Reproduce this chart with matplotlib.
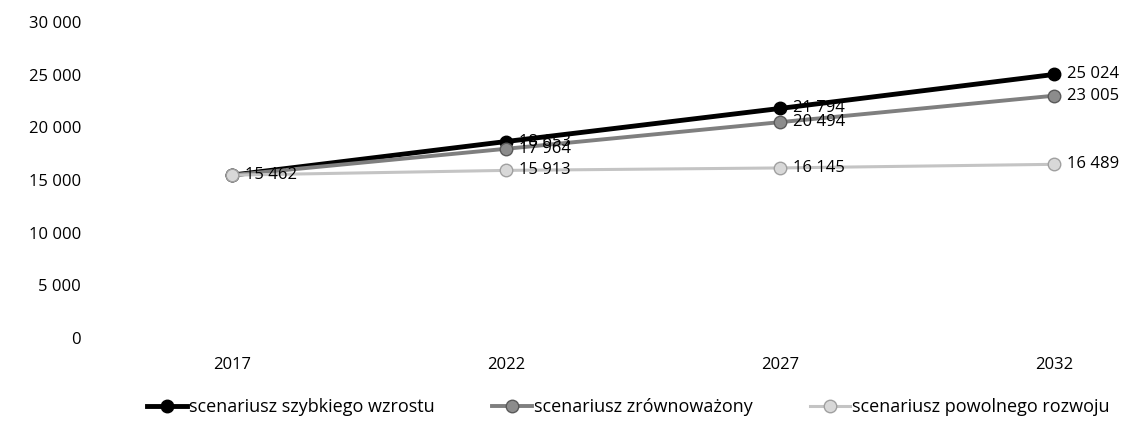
import matplotlib.pyplot as plt
import numpy as np

years = ['2017', '2022', '2027', '2032']
fast_growth = [15462, 18653, 21794, 25024]
balanced = [15462, 17964, 20494, 23005]
slow_growth = [15462, 15913, 16145, 16489]

series_names = ['scenariusz szybkiego wzrostu',
                'scenariusz zrównoważony',
                'scenariusz powolnego rozwoju']

plt.rcParams['font.family'] = ['Open Sans', 'DejaVu Sans']


def fmt(v):
    return '{:,}'.format(v).replace(',', ' ')


fig = plt.figure(figsize=(11.42, 4.26), dpi=100)
ax = fig.add_axes([95 / 1142, 88 / 426, 1047 / 1142, 316 / 426])

x = np.arange(len(years))
# later series sit on top, as in a spreadsheet chart
styles = [
    dict(color='black', lw=3.5, ms=9, mfc='black', mec='black', zorder=3),
    dict(color='#7f7f7f', lw=2.8, ms=9, mfc='#8c8c8c', mec='#5a5a5a', zorder=4),
    dict(color='#c4c4c4', lw=2.2, ms=9, mfc='#d8d8d8', mec='#a0a0a0', zorder=5),
]
for vals, name, st in zip([fast_growth, balanced, slow_growth], series_names, styles):
    ax.plot(x, vals, marker='o', label=name, **st)
    for i, v in enumerate(vals):
        # the three series share one start value, label it once
        if name != series_names[2] and i == 0:
            continue
        ax.annotate(fmt(v), (x[i], v), xytext=(9, 0), textcoords='offset points',
                    va='center', ha='left', fontsize=12, color='black', zorder=6)

ax.set_xlim(-0.5, 3.32)
ax.set_ylim(0, 30000)
ax.set_yticks(np.arange(0, 30001, 5000))
ax.set_yticklabels([fmt(t) for t in range(0, 30001, 5000)])
ax.set_xticks(x)
ax.set_xticklabels(years)
ax.tick_params(length=0, labelsize=12)
ax.tick_params(axis='x', pad=14)
ax.tick_params(axis='y', pad=10)
for s in ax.spines.values():
    s.set_visible(False)

fig.legend(loc='lower center', ncol=3, frameon=False, fontsize=13,
           bbox_to_anchor=(0.55, -0.015), handlelength=2.2, columnspacing=3.2,
           handletextpad=0.1)

fig.savefig('out.png', dpi=100)
